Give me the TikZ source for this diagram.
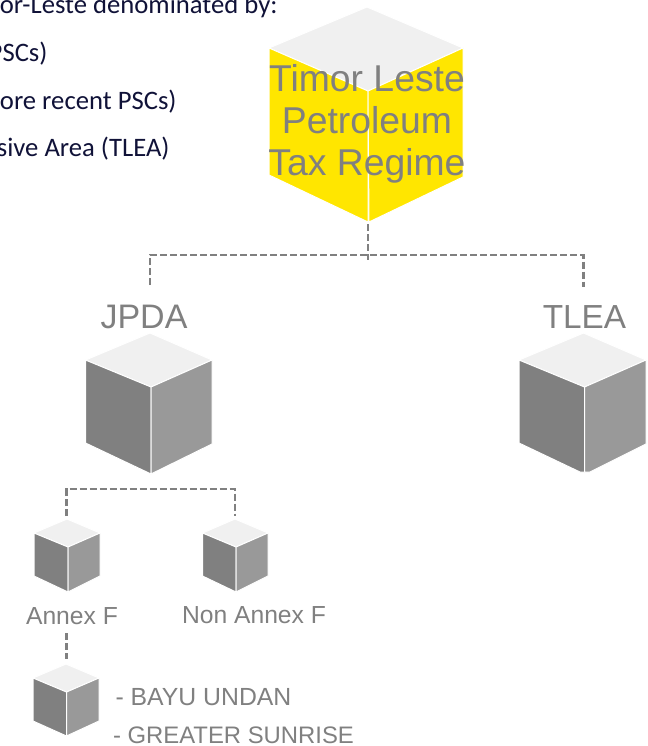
\documentclass[tikz,border=0pt]{standalone}
\usepackage{fontspec}
\setmainfont{Liberation Sans}
\newfontfamily\introfont{Carlito}
\definecolor{cubeTop}{RGB}{240,240,240}
\definecolor{cubeLeft}{RGB}{128,128,128}
\definecolor{cubeRight}{RGB}{153,153,153}
\definecolor{regimeYellow}{RGB}{255,230,0}
\definecolor{labelGrey}{RGB}{128,128,128}
\definecolor{introInk}{RGB}{16,18,56}
\tikzset{every picture/.style={line width=0.75pt}}
\tikzset{
  topface/.style={fill=cubeTop,draw=white,line width=0.75pt},
  leftface/.style={fill=cubeLeft,draw=white,line width=0.75pt},
  rightface/.style={fill=cubeRight,draw=white,line width=0.75pt},
  regimeface/.style={fill=regimeYellow,draw=white,line width=0.75pt},
  branch/.style={draw=labelGrey,line width=1.9pt,dash pattern=on 5.5pt off 2pt},
  introtext/.style={anchor=base east,inner sep=0pt,text=introInk,font=\introfont\fontsize{20}{24}\selectfont},
  treelabel/.style={anchor=base,inner sep=0pt,text=labelGrey},
  fieldlabel/.style={anchor=base west,inner sep=0pt,text=labelGrey}
}
\begin{document}
\begin{tikzpicture}[x=0.75pt,y=0.75pt,yscale=-1,xscale=1]
\useasboundingbox (0,0) rectangle (648,746);

% Text at the top left, running off the page
\node [introtext] (introA) at (278,13) {or-Leste denominated by:};
\node [introtext] (introB) at (48,61) {PSCs)};
\node [introtext] (introC) at (177,109) {ore recent PSCs)};
\node [introtext] (introD) at (170,156) {sive Area (TLEA)};

% Cube Timor Leste
\draw [topface] (367,7) -- (463,48) -- (368,91) -- (269,48) -- cycle;
\draw [regimeface] (269,48) -- (368,91) -- (368,222) -- (269,175) -- cycle;
\draw [regimeface] (368,91) -- (463,48) -- (463,177) -- (369,222) -- cycle;
% Cube JPDA
\draw [topface] (150,333) -- (212,360) -- (151,387) -- (85.5,360) -- cycle;
\draw [leftface] (85.5,360) -- (151,387) -- (151,474) -- (85.5,443) -- cycle;
\draw [rightface] (151,387) -- (212,360) -- (212,444) -- (151,474) -- cycle;
% Cube TLEA
\draw [topface] (583.5,333) -- (646,360) -- (584.5,387) -- (519,360) -- cycle;
\draw [leftface] (519,360) -- (584.5,387) -- (584.5,472) -- (580,472) -- (519,443) -- cycle;
\draw [rightface] (584.5,387) -- (646,360) -- (646,444) -- (590,472) -- (584.5,472) -- cycle;
% Cube Annex F
\draw [topface] (67,519) -- (100,533) -- (68,547) -- (34,533) -- cycle;
\draw [leftface] (34,533) -- (68,547) -- (68,592) -- (34,576) -- cycle;
\draw [rightface] (68,547) -- (100,533) -- (100,576) -- (68,592) -- cycle;
% Cube Non Annex F
\draw [topface] (235,519) -- (268,533) -- (236,547) -- (202.5,533) -- cycle;
\draw [leftface] (202.5,533) -- (236,547) -- (236,592) -- (202.5,576) -- cycle;
\draw [rightface] (236,547) -- (268,533) -- (268,576) -- (236,592) -- cycle;
% Cube fields
\draw [topface] (66,664) -- (99,678) -- (66.5,692) -- (33,678) -- cycle;
\draw [leftface] (33,678) -- (66.5,692) -- (66.5,736) -- (33,721) -- cycle;
\draw [rightface] (66.5,692) -- (99,678) -- (99,721) -- (66.5,736) -- cycle;

% Text Node
\node [anchor=center,align=center,inner sep=0pt,text=labelGrey,font=\fontsize{28}{31.5}\selectfont] (regime) at (367,124) {Timor Leste\\Petroleum\\Tax Regime};
\node [treelabel,font=\fontsize{25.5}{28}\selectfont] (jpda) at (144,328) {JPDA};
\node [treelabel,font=\fontsize{25}{28}\selectfont] (tlea) at (584.5,328) {TLEA};
\node [treelabel,font=\fontsize{18.5}{22}\selectfont] (annexF) at (72,624) {Annex F};
\node [treelabel,font=\fontsize{18.5}{22}\selectfont] (nonAnnexF) at (254,623) {Non Annex F};
\node [fieldlabel,font=\fontsize{18.6}{22}\selectfont] (bayu) at (115,705) {- BAYU UNDAN};
\node [fieldlabel,font=\fontsize{17.9}{22}\selectfont] (sunrise) at (112.5,743) {- GREATER SUNRISE};

% Connector ends
\coordinate (regimeFoot) at (368,224);
\coordinate (regimeJoin) at (368,260);
\coordinate (jpdaStub) at (150,285);
\coordinate (tleaStub) at (583.5,287);
\coordinate (topBar) at (368,255);
\coordinate (annexStub) at (66.5,516);
\coordinate (nonAnnexStub) at (235,516);
\coordinate (annexFoot) at (66.5,633);
\coordinate (fieldsTop) at (66.5,659);

% Dashed connectors
\draw [branch] (regimeFoot) -- (regimeJoin);
\draw [branch] (jpdaStub) |- (topBar) -| (tleaStub);
\draw [branch] (annexStub) |- (151,489) -| (nonAnnexStub);
\draw [branch] (annexFoot) -- (fieldsTop);
\end{tikzpicture}
\end{document}
